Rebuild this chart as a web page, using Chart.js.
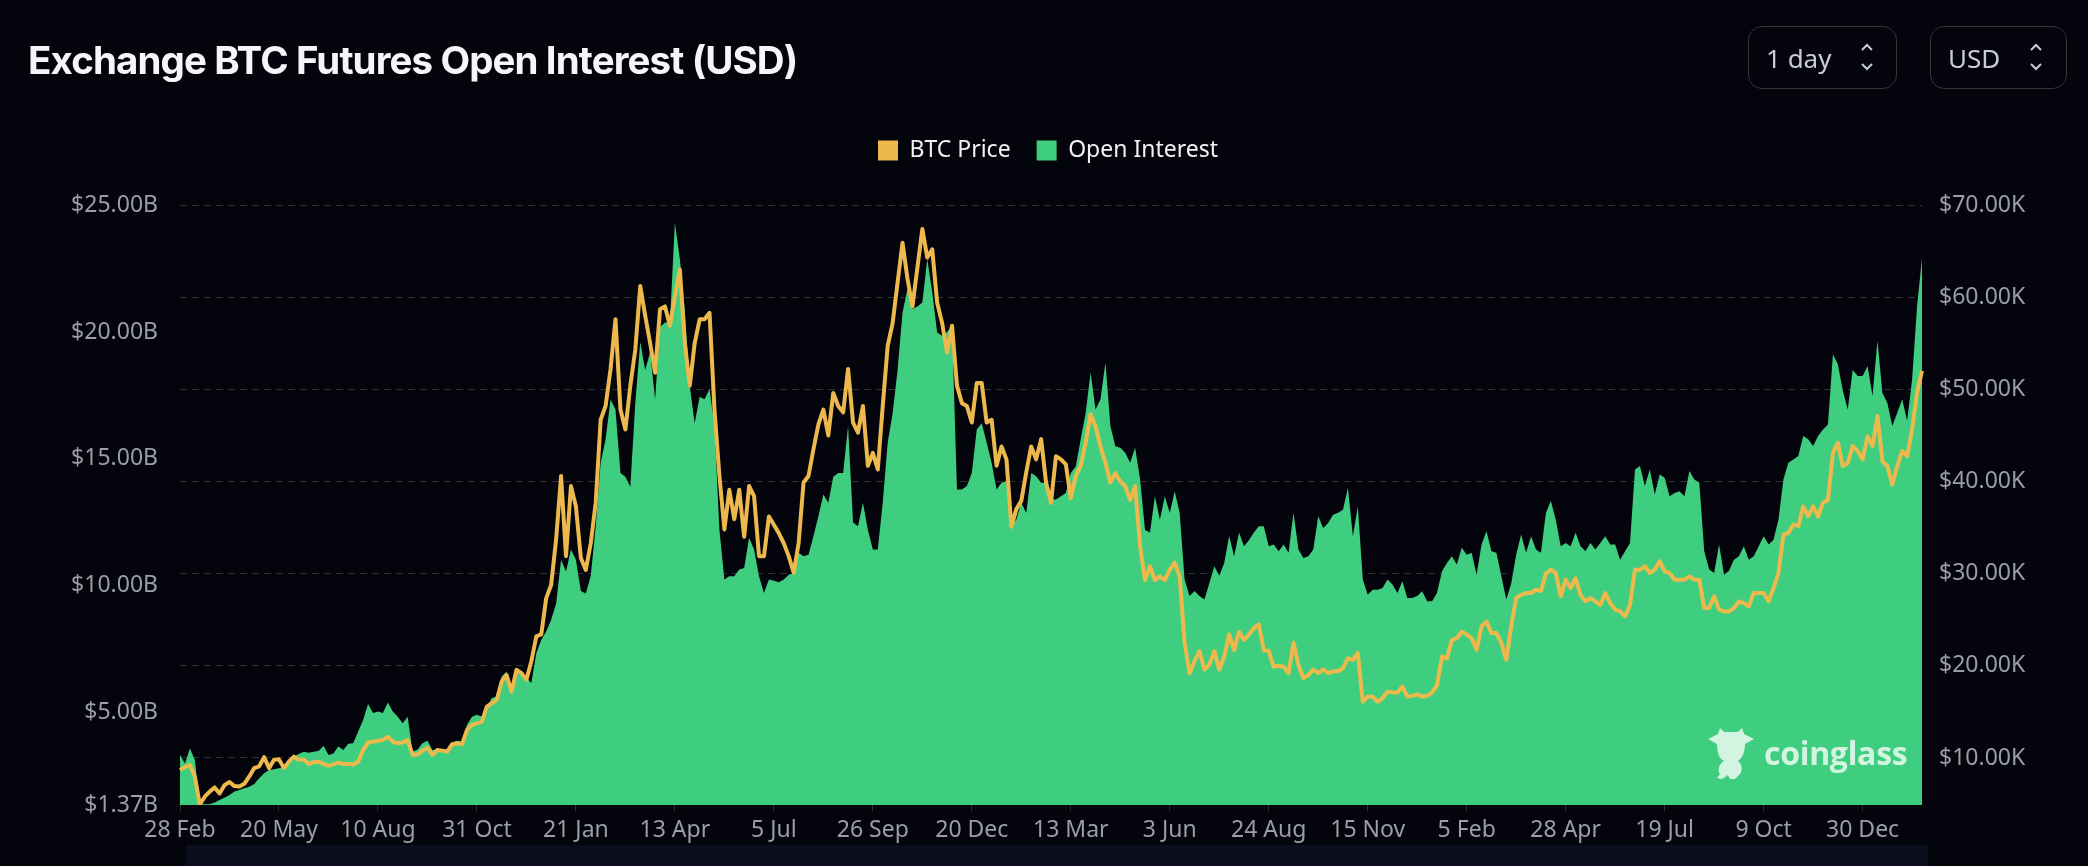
<!DOCTYPE html>
<html>
<head>
<meta charset="utf-8">
<title>Exchange BTC Futures Open Interest (USD)</title>
<script src="https://cdn.jsdelivr.net/npm/chart.js@4"></script>
<style>
  html, body { margin: 0; padding: 0; background: #03040c; }
  #wrap { position: relative; width: 2088px; height: 866px; overflow: hidden; }
  #poolCanvas { position: absolute; left: 0; top: 0; }
  h1 { position: absolute; left: 28px; top: 37px; margin: 0; font: 700 38.5px Inter, sans-serif; letter-spacing: -0.9px; color: #f4f6fa; white-space: nowrap; }
  .picker { position: absolute; top: 26px; height: 63px; box-sizing: border-box; border: 1.5px solid #33353b; border-radius: 14px; color: #c9ccd3; font: 26px "Noto Sans", sans-serif; line-height: 62px; padding-left: 17px; }
  .picker svg { position: absolute; top: 15px; }
  #strip { position: absolute; left: 186px; width: 1742px; top: 845px; height: 21px; background: #0a0e1c; }
  #logo { position: absolute; left: 1708px; top: 728px; }
  #brand { position: absolute; left: 1764px; top: 731px; font: 700 32px "Open Sans", sans-serif; letter-spacing: -0.3px; color: #d3f4e1; }
</style>
</head>
<body>
<div id="wrap">
  <canvas id="poolCanvas" width="2088" height="866"></canvas>
  <h1>Exchange BTC Futures Open Interest (USD)</h1>
  <div class="picker" style="left:1748px;width:149px">1 day
    <svg style="left:108px" width="20" height="30" viewBox="0 0 20 30" fill="none" stroke="#c9ccd3" stroke-width="2"><path d="M5 8l5-5 5 5M5 22l5 5 5-5"/></svg>
  </div>
  <div class="picker" style="left:1930px;width:137px">USD
    <svg style="left:95px" width="20" height="30" viewBox="0 0 20 30" fill="none" stroke="#c9ccd3" stroke-width="2"><path d="M5 8l5-5 5 5M5 22l5 5 5-5"/></svg>
  </div>
  <div id="strip"></div>
  <svg id="logo" width="46" height="52" viewBox="0 0 46 52" fill="#d3f4e1">
    <path d="M0 11 L10 6 L12 0 L16 4 H30 L34 0 L36 6 L46 11 L37 16 C37 26 33 31 30 33 C34 36 35 42 32 46 L27 51 H22 L20 47 L14 51 L9 50 L12 46 C9 42 11 36 16 33 C12 31 9 26 9 16 Z"/>
  </svg>
  <div id="brand">coinglass</div>
</div>
<script>
// Labels under the axis, one for every 20 samples
const tickLabels = ['28 Feb', '20 May', '10 Aug', '31 Oct', '21 Jan', '13 Apr', '5 Jul', '26 Sep', '20 Dec',
  '13 Mar', '3 Jun', '24 Aug', '15 Nov', '5 Feb', '28 Apr', '19 Jul', '9 Oct', '30 Dec'];
const samplesPerTick = 20;

const leftTicks = [25, 20, 15, 10, 5, 1.37];
const rightTicks = [70, 60, 50, 40, 30, 20, 10];

// Open interest in billions of USD
const openInterest = [
  3.34,3.0,3.6,3.15,1.4,1.4,1.4,1.47,1.57,1.66,1.76,1.9,1.96,2.03,2.09,2.2,2.42,2.62,2.75,2.78,
  2.82,2.88,3.0,3.28,3.38,3.47,3.43,3.47,3.5,3.7,3.34,3.4,3.67,3.54,3.78,3.8,4.26,4.72,5.35,4.99,
  5.05,4.99,5.41,5.05,4.85,4.59,4.85,3.47,3.56,3.8,3.9,3.54,3.54,3.54,3.56,3.83,3.9,3.86,4.53,4.85,
  4.92,4.85,5.18,5.58,5.64,6.43,6.63,5.77,6.7,6.56,6.37,6.17,7.35,7.88,8.2,8.67,9.3,11.03,10.57,11.43,
  11.03,9.8,9.7,10.4,12.35,14.85,15.77,17.35,16.95,14.45,14.3,13.9,17.2,19.6,18.5,19.2,17.35,20.2,20.37,20.37,
  24.3,22.87,20.85,17.87,16.4,17.45,17.35,17.75,16.3,12.2,10.25,10.38,10.38,10.64,10.7,11.9,11.43,10.38,9.72,10.25,
  10.2,10.14,10.25,10.44,10.5,11.3,11.17,11.23,11.95,12.74,13.6,13.27,14.3,14.45,14.45,16.3,12.5,12.35,13.27,12.2,
  11.43,11.43,13.27,15.64,16.8,18.5,20.77,21.7,20.9,21,21.16,22.87,21.55,19.98,19.85,20,20.24,13.8,13.8,13.93,
  14.45,16.16,16.4,15.64,14.85,13.8,14.06,14.13,12.35,12.61,13.27,12.87,14.45,14.32,14.06,14.06,13.4,13.4,13.53,13.66,
  14.45,14.7,15.77,16.8,18.4,16.95,17.35,18.8,16.3,15.5,15.44,15.24,14.85,15.44,14.2,12.2,12.1,13.53,12.6,13.53,
  12.87,13.73,12.87,10.25,9.6,9.8,9.6,9.46,10.1,10.77,10.4,10.9,11.96,11.17,12.1,11.56,11.8,12.1,12.35,12.35,
  11.56,11.63,11.36,11.63,11.3,12.88,11.43,11.1,11.17,11.43,12.74,12.28,12.48,12.8,12.88,13,13.86,11.95,13.14,10.25,
  9.65,9.85,9.85,9.92,10.25,10.05,9.72,10.18,9.52,9.52,9.6,9.79,9.39,9.39,9.72,10.57,10.9,11.17,10.84,11.5,
  11.23,11.3,10.44,11.63,12.15,11.36,11.3,10.38,9.46,10.1,11.23,12.02,11.3,11.95,11.43,11.3,12.87,13.34,12.6,11.56,
  11.69,11.56,12.09,11.56,11.36,11.69,11.43,11.69,11.95,11.63,11.63,11.03,11.36,11.69,14.58,14.72,13.93,14.58,13.6,14.39,
  14.26,13.53,13.66,13.73,13.53,14.52,14.19,14.06,11.36,10.64,10.51,11.63,10.44,10.6,11.03,11.17,11.56,11.03,11.17,11.56,
  11.95,11.63,11.82,12.61,14.19,14.85,14.98,15.11,15.9,15.77,15.51,15.9,16.16,16.36,19.12,18.73,17.68,16.95,18.5,18.27,
  18.27,18.66,17.48,19.65,17.6,17.2,16.3,16.82,17.35,16.5,18.13,21,22.9
];

// BTC price in thousands of USD
const btcPrice = [
  8.7,9.0,9.24,8.0,4.95,5.8,6.35,6.8,6.15,7.06,7.4,6.95,6.9,7.2,8.0,8.9,9.1,10.1,8.9,9.8,
  9.85,8.9,9.6,10.15,9.8,9.85,9.35,9.55,9.6,9.35,9.15,9.3,9.5,9.35,9.35,9.3,9.6,10.87,11.67,11.78,
  11.88,11.96,12.3,11.78,11.6,11.67,11.96,10.33,10.4,10.8,11.1,10.33,10.87,10.8,10.7,11.5,11.6,11.5,13.04,13.6,
  13.77,13.95,15.58,15.94,16.3,18.3,19,17.2,19.57,19.2,18.5,20.5,23.2,23.4,27.35,28.8,33.7,40.6,31.9,39.5,
  37.3,31.7,30.4,33.3,37.7,46.7,48.2,52.2,57.6,47.8,45.65,50.4,54.3,61.2,58,55,51.8,58.7,59,56.9,
  60.1,63,55.1,50.4,55,57.6,57.6,58.3,47.8,40.6,34.8,39.1,35.9,39.1,34,39.5,38.4,31.9,31.9,36.2,
  35.3,34.4,33.3,31.9,30.1,33.3,39.9,40.6,43.5,46.2,47.8,45,49.6,48.2,47.5,52.2,46.4,45.3,48.2,41.7,
  43.1,41.3,48.2,54.7,57.2,61.6,65.9,62,59,63.2,67.4,64.3,65.2,59.4,57.2,54,56.9,50.4,48.5,48.2,
  46.4,50.7,50.7,46.4,46.7,41.7,43.8,42.4,35.1,37,37.9,41,43.8,42.4,44.6,39.9,37.7,42.75,42.4,41.85,
  38.2,40.6,41.7,44.2,47.3,46,43.8,42,39.9,40.9,40,39.5,38,39.5,33,29.3,30.8,29.3,29.7,29.3,
  30.4,31.2,29.7,22.5,19.2,20.5,21.6,19.6,20.1,21.6,19.6,21,23.4,21.7,23.7,22.8,23.4,24.1,24.5,21.7,
  21.6,19.9,20,19.9,19.2,22.5,20.1,18.66,19,19.6,19.2,19.6,19.2,19.4,19.4,19.75,20.8,20.65,21.4,16.1,
  16.67,16.67,16.1,16.5,17.2,17.1,17.1,17.75,16.67,16.74,16.9,16.67,16.74,17.1,17.9,21,20.8,22.8,23,23.7,
  23.4,23,21.74,24.3,24.8,23.55,23.55,22.5,20.65,24.3,27.36,27.7,27.9,27.9,28.26,28.1,30,30.43,30.07,27.54,
  29.35,28.44,29.5,27.7,27,27.35,27,26.6,27.9,26.8,26.1,25.9,25.36,26.6,30.43,30.43,30.8,30.07,30.43,31.34,
  30.25,30.07,29.35,29.35,29.35,29.7,29.35,29.35,26.27,26.27,27.54,26.1,25.9,25.9,26.27,27,26.8,26.45,27.9,27.9,
  27.9,27,28.44,30.07,34.24,34.42,35.33,35.15,37.3,36.23,37.3,36.2,37.7,38,43.1,44.2,41.67,42,43.84,43.3,
  42.4,44.9,43.84,47.1,42.2,41.67,39.67,41.67,43.3,42.75,45.65,49.64,52
];

const sampleLabels = openInterest.map((_, i) => tickLabels[i / samplesPerTick] || '');

const axisFont = { family: '"Noto Sans", sans-serif', size: 23 };
const axisColor = '#9b9ea4';

// Push the plot down from the legend, the legend has no margin option of its own
const legendGap = {
  id: 'legendGap',
  beforeInit(chart) {
    const fit = chart.legend.fit;
    chart.legend.fit = function () {
      fit.call(this);
      this.height += 33;
    };
  }
};

new Chart(document.getElementById('poolCanvas').getContext('2d'), {
  type: 'line',
  plugins: [legendGap],
  data: {
    labels: sampleLabels,
    datasets: [
      {
        label: 'BTC Price',
        data: btcPrice,
        yAxisID: 'yPrice',
        borderColor: '#edb94c',
        backgroundColor: '#edb94c',
        borderWidth: 4,
        borderJoinStyle: 'round',
        pointRadius: 0,
        tension: 0,
        order: 0
      },
      {
        label: 'Open Interest',
        data: openInterest,
        yAxisID: 'yOi',
        borderColor: '#3fce7f',
        backgroundColor: '#3fce7f',
        borderWidth: 0,
        pointRadius: 0,
        fill: 'start',
        order: 1
      }
    ]
  },
  options: {
    responsive: false,
    animation: false,
    layout: { padding: { top: 113, left: 8 } },
    plugins: {
      tooltip: { enabled: false },
      legend: {
        position: 'top',
        labels: {
          color: '#f0f2f5',
          boxWidth: 20,
          boxHeight: 20,
          padding: 26,
          font: { family: '"Noto Sans", sans-serif', size: 23 },
          generateLabels(chart) {
            return Chart.defaults.plugins.legend.labels.generateLabels(chart).map(item => ({ ...item, lineWidth: 0 }));
          }
        }
      }
    },
    scales: {
      x: {
        type: 'category',
        offset: false,
        afterBuildTicks(scale) {
          scale.ticks = scale.ticks.filter(t => t.value % samplesPerTick === 0);
        },
        afterFit(scale) { scale.height = 61; },
        grid: { display: true, drawOnChartArea: false, color: '#2a2c30', tickLength: 6 },
        border: { display: false },
        ticks: {
          autoSkip: false,
          maxRotation: 0,
          color: axisColor,
          font: axisFont,
          padding: 6,
          callback(value) { return this.getLabelForValue(value); }
        }
      },
      yOi: {
        position: 'left',
        min: 1.37,
        max: 25,
        afterBuildTicks(scale) { scale.ticks = leftTicks.map(value => ({ value })); },
        afterFit(scale) { scale.width = 172; },
        grid: { display: false },
        border: { display: false },
        ticks: {
          color: axisColor,
          font: axisFont,
          padding: 14,
          callback: value => `$${value.toFixed(2)}B`
        }
      },
      yPrice: {
        position: 'right',
        min: 4.9,
        max: 70,
        afterBuildTicks(scale) { scale.ticks = rightTicks.map(value => ({ value })); },
        afterFit(scale) { scale.width = 166; },
        grid: { color: '#303236', drawTicks: false },
        border: { display: false, dash: [7, 5] },
        ticks: {
          color: axisColor,
          font: axisFont,
          padding: 17,
          callback: value => `$${value.toFixed(2)}K`
        }
      }
    }
  }
});
</script>
</body>
</html>
